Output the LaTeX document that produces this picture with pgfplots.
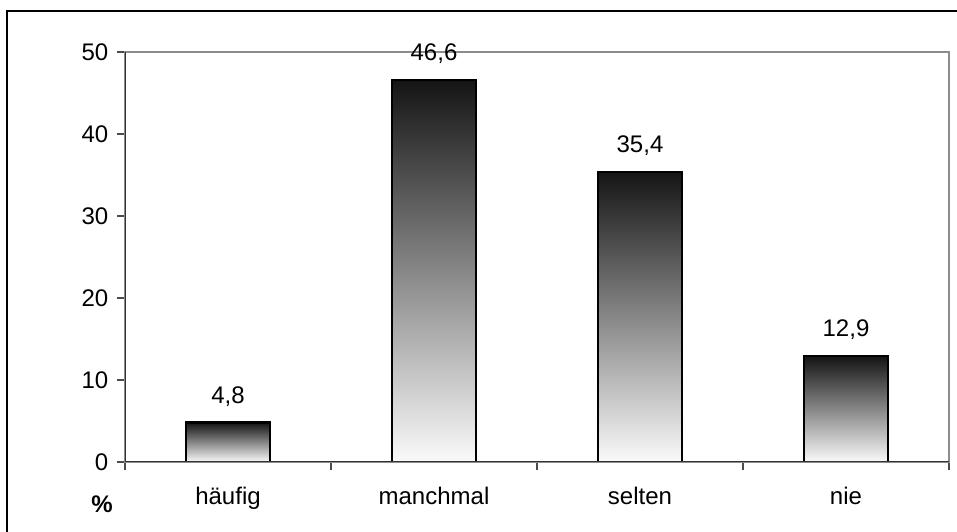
\documentclass[border=0pt]{standalone}
\usepackage{pgfplots}
\pgfplotsset{compat=1.18}
\usepackage{fontspec}
\setmainfont{Liberation Sans}
\newcommand{\lbl}{\fontsize{18}{21}\selectfont}
\pgfplotsset{
    shadedbar/.style={ybar, bar shift=0pt, bar width=63pt, draw=black, line width=1.8pt,
        top color=black!92, bottom color=black!2,
        nodes near coords,
        every node near coord/.append style={font=\lbl, text=black, yshift=8pt},
        /pgf/number format/.cd, fixed, precision=1, fixed zerofill, use comma, assume math mode=true},
}
\begin{document}
\begin{tikzpicture}[x=1pt,y=1pt]
\useasboundingbox (0,0) rectangle (717.75,399);
\clip (0,0) rectangle (717.75,399);
% outer frame, cut by the right and bottom edges
\draw[line width=0.8pt] (5.25,-10) |- (730,390.75);
\begin{axis}[
    at={(93.75pt,52.5pt)}, anchor=south west,
    scale only axis,
    width=618pt, height=307.5pt,
    xmin=0.5, xmax=4.5,
    ymin=0, ymax=50,
    axis line style={draw=black!45, line width=1.2pt},
    ytick={0,10,...,50},
    ytick pos=left,
    xtick pos=bottom,
    xtick={1,2,3,4},
    xticklabels={häufig, manchmal, selten, nie},
    minor xtick={0.5,1.5,2.5,3.5,4.5},
    major x tick style={draw=none},
    tick align=outside,
    major tick length=6pt,
    minor tick length=6pt,
    tick style={draw=black!70, line width=0.9pt},
    tick label style={font=\lbl},
    xticklabel style={yshift=-9pt},
    yticklabel style={xshift=-3pt},
    /pgf/number format/assume math mode=true,
]
    % one plot per bar so that each bar gets its own gradient
    \addplot[shadedbar] coordinates {(1,4.8)};
    \addplot[shadedbar] coordinates {(2,46.6)};
    \addplot[shadedbar] coordinates {(3,35.4)};
    \addplot[shadedbar] coordinates {(4,12.9)};
    % left and bottom axis lines are darker than the top and right ones
    \draw[black!80, line width=1.2pt] (rel axis cs:0,1) -- (rel axis cs:0,0) -- (rel axis cs:1,0);
\end{axis}
\node[font=\lbl\bfseries] at (76.5,21) {\%};
\end{tikzpicture}
\end{document}
